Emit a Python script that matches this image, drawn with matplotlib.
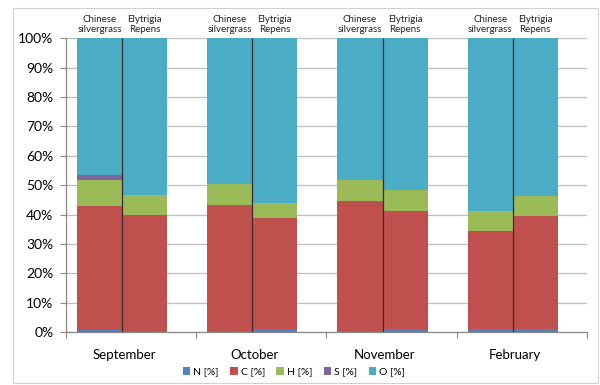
import numpy as np
import matplotlib.pyplot as plt
from matplotlib.patches import Rectangle

plt.rcParams['font.family'] = ['Lato', 'DejaVu Sans']

months = ['September', 'October', 'November', 'February']
species = ['Chinese\nsilvergrass', 'Elytrigia\nRepens']

# element shares [%], order per month: Chinese silvergrass, Elytrigia Repens
n_pct = [0.6, 0.5, 0.3, 1.0, 0.3, 1.0, 1.0, 1.0]
c_pct = [42.4, 39.3, 43.1, 37.7, 44.4, 40.3, 33.5, 38.6]
h_pct = [8.7, 6.7, 7.0, 5.1, 7.0, 7.0, 6.7, 6.6]
s_pct = [1.6, 0.1, 0.1, 0.1, 0.1, 0.1, 0.1, 0.1]
o_pct = [100 - a - b - c - d for a, b, c, d in zip(n_pct, c_pct, h_pct, s_pct)]

series = [('N [%]', n_pct, '#4F81BD'), ('C [%]', c_pct, '#C0504D'),
          ('H [%]', h_pct, '#9BBB59'), ('S [%]', s_pct, '#8064A2'),
          ('O [%]', o_pct, '#4BACC6')]

fig = plt.figure(figsize=(6, 3.85), dpi=100)
ax = fig.add_axes([0.11, 0.1377, 0.868, 0.7628])

width = 0.346
offset = 0.085
lefts = []
for i in range(len(months)):
    lefts += [i + offset, i + offset + width]
lefts = np.array(lefts)

bottom = np.zeros(len(lefts))
for name, vals, col in series:
    ax.bar(lefts, vals, width=width, bottom=bottom, align='edge',
           color=col, label=name, linewidth=0, zorder=3)
    bottom += np.array(vals)

# divider between the two bars of each month
for i in range(len(months)):
    ax.vlines(i + offset + width, 0, 100, color='#3a2a2a', lw=0.9, zorder=4)
    for j, sp in enumerate(species):
        ax.text(i + offset + width * (j + 0.5), 101.5, sp, ha='center', va='bottom',
                fontsize=7, color='#222222', linespacing=1.15)

ax.set_xlim(0, 4)
ax.set_ylim(0, 100)
ax.set_yticks(np.arange(0, 101, 10))
ax.set_yticklabels([f'{v}%' for v in range(0, 101, 10)], fontsize=10)
ax.yaxis.grid(True, color='#BFBFBF', lw=0.9, zorder=0)

ax.set_xticks(np.arange(0, 5))
ax.set_xticklabels([])
ax.set_xticks(np.arange(len(months)) + 0.45, minor=True)
ax.set_xticklabels(months, minor=True, fontsize=9.5)
ax.tick_params(axis='x', which='minor', length=0, pad=12)
ax.tick_params(axis='x', which='major', length=4, color='#888888', direction='out')
ax.tick_params(axis='y', length=4, color='#888888', pad=5)

for side in ['top', 'right']:
    ax.spines[side].set_visible(False)
for side in ['left', 'bottom']:
    ax.spines[side].set_color('#888888')
    ax.spines[side].set_linewidth(0.9)

fig.legend(loc='center', bbox_to_anchor=(0.49, 0.034), ncol=5, frameon=False,
           fontsize=7.5, handlelength=0.7, handleheight=0.7, handletextpad=0.3,
           columnspacing=1.1)

fig.patches.append(Rectangle((13 / 600, 2 / 385), 585 / 600, 375 / 385,
                             transform=fig.transFigure, fill=False,
                             edgecolor='#D0D0D0', lw=0.8))

fig.savefig('out.png', dpi=100)
